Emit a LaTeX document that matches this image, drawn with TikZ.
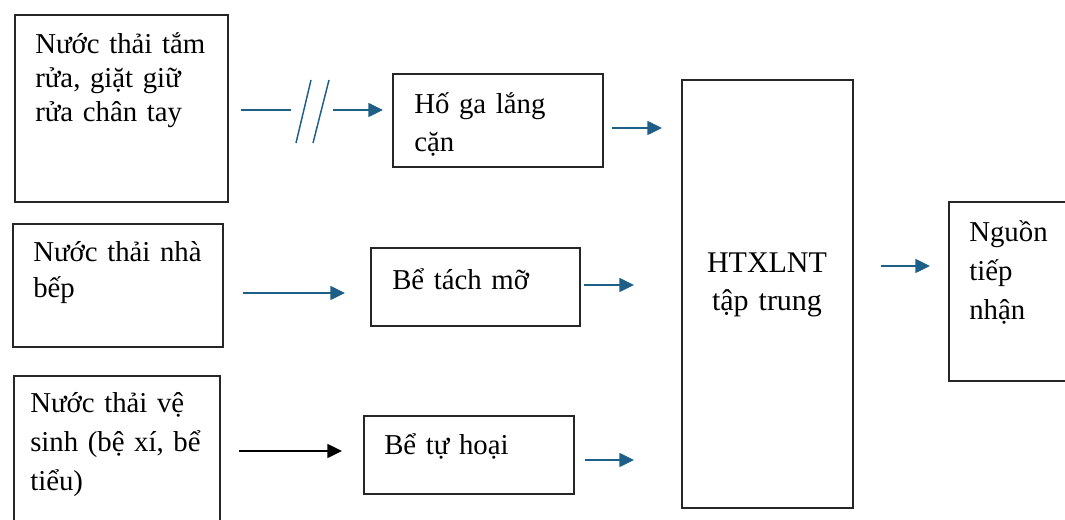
\documentclass[tikz,border=0pt]{standalone}
\usepackage{fontspec}
\setmainfont{Liberation Serif}
\usepackage{tikz}
\usetikzlibrary{calc,positioning,arrows.meta,fit}
\definecolor{flowblue}{RGB}{30,95,135}
\tikzstyle{box}       = [draw=black!85, line width=1pt, inner sep=0pt]
\tikzstyle{txt}       = [inner sep=0pt, anchor=base west, text width=200pt, align=left]
\tikzstyle{arrow}     = [line width=1.1pt, draw=flowblue, -{Triangle[length=11pt,width=10.5pt]}]
\tikzstyle{brk}       = [line width=1.1pt, draw=flowblue]

\begin{document}
\begin{tikzpicture}[x=0.75pt, y=-0.75pt]
        \useasboundingbox (0,0) rectangle (1065,520);

        % nguon nuoc thai
        \node[box, fit={(15,15) (228,202)}] (tam) {};
        \node[txt, font=\fontsize{21.6}{25.5}\selectfont] (tamtxt) at (35,54) {Nước thải tắm\\rửa, giặt giữ\\rửa chân tay};
        \node[box, fit={(13,224) (223,347)}] (bep) {};
        \node[txt, font=\fontsize{21.6}{27}\selectfont] (beptxt) at (33,262) {Nước thải nhà\\bếp};
        \node[box, fit={(14,376) (220,530)}] (vs) {};
        \node[txt, font=\fontsize{21.6}{29}\selectfont] (vstxt) at (30,413) {Nước thải vệ\\sinh (bệ xí, bể\\tiểu)};

        % xu ly so bo
        \node[box, fit={(393,74) (603,167)}] (hoga) {};
        \node[txt, font=\fontsize{21.6}{28}\selectfont] (hogatxt) at (414,114) {Hố ga lắng\\cặn};
        \node[box, fit={(371,248) (580,326)}] (tachmo) {};
        \node[txt, font=\fontsize{21.6}{27}\selectfont] (tachmotxt) at (392,290) {Bể tách mỡ};
        \node[box, fit={(364,416) (574,494)}] (tuhoai) {};
        \node[txt, font=\fontsize{21.6}{27}\selectfont] (tuhoaitxt) at (384,455) {Bể tự hoại};

        % htxlnt va nguon tiep nhan
        \node[box, fit={(682,80) (853,508)}] (ht) {};
        \node[txt, anchor=base, text width=120pt, align=center, font=\fontsize{22.5}{28.5}\selectfont] (httxt) at (767,273) {HTXLNT\\tập trung};
        \node[box, fit={(949,202) (1072,381)}] (ntn) {};
        \node[txt, font=\fontsize{21.6}{29}\selectfont] (ntntxt) at (969,242) {Nguồn\\tiếp\\nhận};

        % diem dau cuoi mui ten
        \coordinate (a1s) at (241,110);
        \coordinate (a1m) at (291,110);
        \coordinate (a1n) at (333,110);
        \coordinate (a1e) at (383,110);
        \coordinate (s1a) at (296,143);
        \coordinate (s1b) at (311,80);
        \coordinate (s2a) at (313,143);
        \coordinate (s2b) at (329,80);
        \coordinate (a2s) at (612,128);
        \coordinate (a2e) at (662,128);
        \coordinate (a3s) at (243,293);
        \coordinate (a3e) at (345,293);
        \coordinate (a4s) at (584,285);
        \coordinate (a4e) at (634,285);
        \coordinate (a5s) at (239,451);
        \coordinate (a5e) at (342,451);
        \coordinate (a6s) at (585,460);
        \coordinate (a6e) at (634,460);
        \coordinate (a7s) at (881,266);
        \coordinate (a7e) at (930,266);

        \draw[brk] (a1s) -- (a1m);
        \draw[brk] (s1a) -- (s1b);
        \draw[brk] (s2a) -- (s2b);
        \draw[arrow] (a1n) -- (a1e);
        \draw[arrow] (a2s) -- (a2e);
        \draw[arrow] (a3s) -- (a3e);
        \draw[arrow] (a4s) -- (a4e);
        \draw[arrow, draw=black] (a5s) -- (a5e);
        \draw[arrow] (a6s) -- (a6e);
        \draw[arrow] (a7s) -- (a7e);
\end{tikzpicture}
\end{document}
